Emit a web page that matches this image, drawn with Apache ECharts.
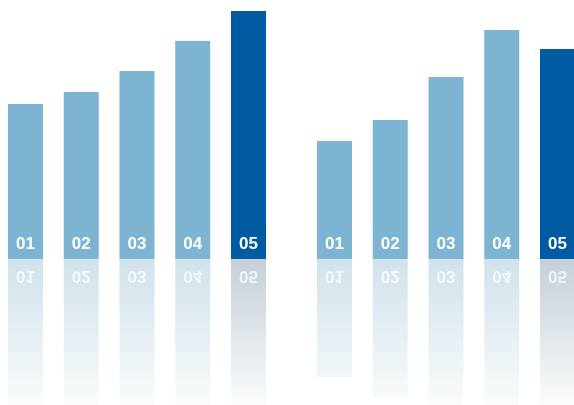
<!DOCTYPE html>
<html>
<head>
<meta charset="utf-8">
<script src="https://cdn.jsdelivr.net/npm/echarts@6/dist/echarts.min.js"></script>
<style>
html,body{margin:0;padding:0;background:#fff;}
#c{width:574px;height:405px;}
</style>
</head>
<body>
<div id="c"></div>
<script>
const categories = ['01', '02', '03', '04', '05'];
const leftValues = [155, 167, 188, 218, 248];
const rightValues = [118, 139, 182, 229, 210];
const yMin = -146;
const yMax = 259;

const LIGHT = '#7db4d2';
const DARK = '#005ba3';
const FONT = '"Liberation Sans", Arial, Helvetica, sans-serif';

// x-axis windows (in category-index units) placing each group of bars
const xWindows = [[-0.4574, 9.8386], [-6.0, 4.2960]];

function barColor(p) { return p.dataIndex === 4 ? DARK : LIGHT; }
function reflColor(p) {
  const top = p.dataIndex === 4 ? '#c4cfd7' : '#d0e2ea';
  return new echarts.graphic.LinearGradient(0, 259, 0, 405, [
    { offset: 0, color: top },
    { offset: 1, color: '#fafcfc' }
  ], true);
}

function makeSeries(idx, values) {
  return [
    {
      type: 'bar', xAxisIndex: idx, yAxisIndex: idx,
      data: values.map((v, i) => [i, v]), barWidth: 35, barGap: '-100%',
      itemStyle: { color: barColor },
      label: {
        show: true, position: 'insideBottom', distance: 6,
        formatter: p => categories[p.dataIndex],
        color: '#fff', fontSize: 17, fontWeight: 'bold', fontFamily: FONT
      },
      silent: true, animation: false
    },
    {
      type: 'bar', xAxisIndex: idx, yAxisIndex: idx,
      data: values.map((v, i) => [i, -v]), barWidth: 35, barGap: '-100%',
      itemStyle: { color: reflColor },
      silent: true, animation: false
    },
    {
      type: 'custom', xAxisIndex: idx, yAxisIndex: idx,
      data: categories.map((c, i) => [i]),
      renderItem: function (params, api) {
        const p = api.coord([api.value(0), 0]);
        return {
          type: 'text', x: p[0], y: p[1] + 8, scaleY: -1,
          style: {
            text: categories[params.dataIndex], fill: 'rgba(255,255,255,0.72)',
            fontSize: 17, fontWeight: 'bold', fontFamily: FONT,
            align: 'center', verticalAlign: 'bottom'
          }
        };
      },
      silent: true, animation: false, z: 5
    }
  ];
}

const chart = echarts.init(document.getElementById('c'), null, { renderer: 'canvas' });
chart.setOption({
  animation: false,
  grid: [
    { left: 0, top: 0, width: 574, height: 405 },
    { left: 0, top: 0, width: 574, height: 405 }
  ],
  xAxis: [0, 1].map(i => ({
    type: 'value', gridIndex: i, min: xWindows[i][0], max: xWindows[i][1], show: false
  })),
  yAxis: [0, 1].map(i => ({
    type: 'value', gridIndex: i, min: yMin, max: yMax, show: false
  })),
  series: [].concat(makeSeries(0, leftValues), makeSeries(1, rightValues))
});
</script>
</body>
</html>
